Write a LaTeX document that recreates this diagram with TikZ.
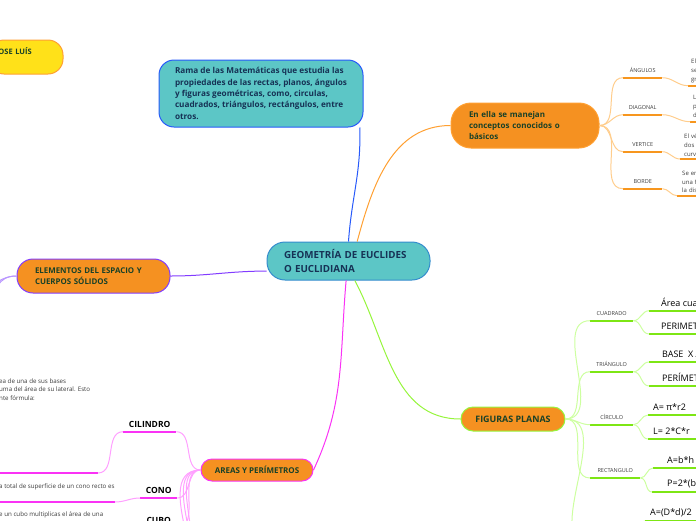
\documentclass[tikz,border=0pt]{standalone}
\usepackage{fontspec}
\setmainfont{Open Sans}
\usetikzlibrary{positioning}

\definecolor{tealfill}{RGB}{92,198,198}
\definecolor{geoline}{RGB}{52,140,205}
\definecolor{ramaline}{RGB}{40,90,250}
\definecolor{orfill}{RGB}{245,145,33}
\definecolor{orline}{RGB}{255,160,50}
\definecolor{orunder}{RGB}{247,150,30}
\definecolor{orlight}{RGB}{255,205,140}
\definecolor{purpline}{RGB}{130,60,255}
\definecolor{purplight}{RGB}{185,150,255}
\definecolor{magline}{RGB}{250,50,245}
\definecolor{maglight}{RGB}{255,160,255}
\definecolor{grline}{RGB}{150,245,60}
\definecolor{grunder}{RGB}{125,230,20}
\definecolor{grlight}{RGB}{205,255,160}
\definecolor{yelfill}{RGB}{255,225,25}
\definecolor{navytext}{RGB}{22,50,85}
\definecolor{greentext}{RGB}{25,65,40}
\definecolor{leaftext}{RGB}{60,60,60}

\begin{document}
\begin{tikzpicture}[x=1pt, y=-1pt,
    topic/.style={fill=orfill, line width=1pt, text=greentext,
        font=\fontsize{8}{11.3}\selectfont\bfseries},
    osub/.style={anchor=south west, inner xsep=0pt, inner ysep=5pt,
        text=leaftext, font=\fontsize{5.5}{6}\selectfont},
    oleaf/.style={anchor=south west, inner xsep=0pt, inner ysep=2.5pt, align=left,
        text=leaftext, font=\fontsize{6}{8.8}\selectfont},
    gleaf/.style={anchor=south west, inner xsep=0pt, inner ysep=4pt,
        font=\fontsize{9}{10}\selectfont},
    mlabel/.style={anchor=south west, inner xsep=0pt, inner ysep=4pt,
        font=\fontsize{8.5}{10}\selectfont\bfseries},
    mleaf/.style={anchor=base west, inner sep=0pt, align=left,
        text=leaftext, font=\fontsize{6.2}{8.3}\selectfont},
    ounder/.style={orunder, line width=2pt},
    gunder/.style={grunder, line width=2pt},
    munder/.style={magline, line width=2pt},
]
    \useasboundingbox (0,0) rectangle (696,520);
    \clip (0,0) rectangle (696,520);

    \node[draw=geoline, fill=tealfill, line width=1pt, rounded corners=18pt,
          minimum width=163pt, minimum height=38pt, text width=129pt, align=left,
          text=navytext, font=\fontsize{9.8}{13.3}\selectfont\bfseries]
          (geo) at (348.5, 261) {GEOMETRÍA DE EUCLIDES\\O EUCLIDIANA};

    \node[draw=ramaline, fill=tealfill, line width=1pt, rounded corners=15pt,
          minimum width=204pt, minimum height=67pt, align=left,
          text=navytext, font=\fontsize{8.2}{11.3}\selectfont\bfseries]
          (rama) at (261, 93.5) {Rama de las Matemáticas que estudia las\\
          propiedades de las rectas, planos, ángulos\\
          y figuras geométricas, como, circulas,\\
          cuadrados, triángulos, rectángulos, entre\\
          otros.};

    \node[draw=orline, fill=yelfill, line width=1pt, rounded corners=15pt,
          minimum width=74pt, minimum height=34pt, text width=60pt, align=left,
          text=greentext, font=\fontsize{7.5}{11}\selectfont\bfseries]
          (jose) at (26, 57) {JOSE LUÍS\\\mbox{}};

    \node[topic, draw=orline, rounded corners=20pt, minimum width=148pt,
          minimum height=45pt, text width=112pt, align=left]
          (ella) at (525, 125.5) {En ella se manejan\\conceptos conocidos o\\básicos};

    \node[topic, draw=purpline, rounded corners=16pt, minimum width=153pt,
          minimum height=34pt, text width=117pt, align=left,
          font=\fontsize{7.9}{11.3}\selectfont\bfseries]
          (elem) at (93.5, 276) {ELEMENTOS DEL ESPACIO Y\\CUERPOS SÓLIDOS};

    \node[topic, draw=magline, rounded corners=11pt, minimum width=112pt,
          minimum height=22pt] (areas) at (257, 470) {AREAS Y PERÍMETROS};

    \node[topic, draw=grline, rounded corners=12pt, minimum width=104pt,
          minimum height=24pt, font=\fontsize{8.9}{10}\selectfont\bfseries]
          (fig) at (513, 419) {FIGURAS PLANAS};

    \draw[ramaline, line width=1pt] (geo.north) to[out=86, in=-88] (rama.-19);
    \draw[orline,   line width=1pt] (geo.66)    to[out=75, in=180] (ella.west);
    \draw[purpline, line width=1pt] (geo.187)   to[out=180, in=0]  (elem.east);
    \draw[magline,  line width=1pt] (geo.263)   to[out=-95, in=65] (areas.east);
    \draw[grline,   line width=1pt] (geo.-72)   to[out=-62, in=180] (fig.west);

    \node[osub, minimum width=39pt] (ang)  at (623,  77.7) {ÁNGULOS};
    \node[osub, minimum width=39pt] (diag) at (623, 114.7) {DIAGONAL};
    \node[osub, minimum width=39pt] (vert) at (623, 151.7) {VERTICE};
    \node[osub, minimum width=39pt] (bord) at (623, 188.7) {BORDE};
    \foreach \n in {ang, diag, vert, bord} {
        \draw[ounder] (\n.south west) -- (\n.south east);
        \draw[orlight, line width=1pt] (ella.east) to[out=0, in=180] (\n.south west);
    }

    \node[oleaf, inner xsep=3pt, text width=80pt] (angl)  at (688,  85.7)
        {El ángulo es la abertura\\se forma entre dos rectas\\grados};
    \node[oleaf, inner xsep=3pt, text width=80pt] (diagl) at (690, 121.7)
        {La diagonal es un segmento\\para unir dos vértices\\de un polígono};
    \node[oleaf, inner xsep=4pt, text width=80pt] (vertl) at (680, 159)
        {El vértice es el punto\\dos lados de una figura\\curva};
    \node[oleaf, inner xsep=5pt, text width=80pt] (bordl) at (677, 195.7)
        {Se entiende por borde\\una figura que marca\\la distancia};
    \foreach \n/\m in {ang/angl, diag/diagl, vert/vertl, bord/bordl} {
        \draw[ounder] (\m.south west) -- ++(60, 0);
        \draw[orlight, line width=1pt] (\n.south east) to[out=0, in=180] (\m.south west);
    }

    \node[osub, minimum width=43pt] (cuad) at (590, 320.7) {CUADRADO};
    \node[osub, minimum width=43pt] (tri)  at (590, 371.7) {TRIÁNGULO};
    \node[osub, minimum width=43pt] (circ) at (590, 424.7) {CÍRCULO};
    \node[osub, minimum width=50pt] (rect) at (590, 478)   {RECTANGULO};
    \coordinate (romb) at (590, 545);
    \foreach \n in {cuad, tri, circ, rect} {
        \draw[gunder] (\n.south west) -- (\n.south east);
        \draw[grlight, line width=1pt] (fig.east) to[out=0, in=180] (\n.south west);
    }
    \draw[grlight, line width=1pt] (fig.east) to[out=0, in=180] (romb);

    \node[gleaf, inner xsep=12pt] (cuad1) at (649, 310.7) {Área cuadrado = L x L};
    \node[gleaf, inner xsep=12pt] (cuad2) at (649, 334)   {PERIMETRO = 4 x L};
    \node[gleaf, inner xsep=13pt] (tri1)  at (649, 362)   {BASE\ \ X ALTURA / 2};
    \node[gleaf, inner xsep=13pt] (tri2)  at (649, 386)   {PERÍMETRO = L + L + L};
    \node[gleaf, inner xsep=5pt]  (circ1) at (648, 415)   {A= π*r2};
    \node[gleaf, inner xsep=5pt]  (circ2) at (648, 439)   {L= 2*C*r};
    \node[gleaf, inner xsep=14pt] (rect1) at (653, 468)   {A=b*h};
    \node[gleaf, inner xsep=15pt] (rect2) at (652, 492)   {P=2*(b+h)};
    \node[gleaf, inner xsep=5pt]  (romb1) at (645, 521)   {A=(D*d)/2};
    \foreach \n/\m in {cuad/cuad1, cuad/cuad2, tri/tri1, tri/tri2,
                       circ/circ1, circ/circ2, rect/rect1, rect/rect2} {
        \draw[gunder] (\m.south west) -- ++(60, 0);
        \draw[grlight, line width=1pt] (\n.south east) to[out=0, in=180] (\m.south west);
    }
    \draw[gunder] (romb1.south west) -- ++(60, 0);
    \draw[grlight, line width=1pt] (romb) ++(43, 0) to[out=0, in=180] (romb1.south west);

    \node[mlabel, minimum width=53pt] (cil)  at (123, 431.7) {CILINDRO};
    \node[mlabel, minimum width=37pt] (cono) at (140, 498)   {CONO};
    \node[mlabel, minimum width=37pt] (cubo) at (140, 528)   {CUBO};
    \coordinate (pris) at (177, 560);
    \coordinate (pira) at (177, 590);
    \coordinate (esfe) at (177, 620);
    \foreach \n in {cil, cono, cubo} {
        \draw[munder] (\n.south west) -- (\n.south east);
        \draw[maglight, line width=1pt] (areas.west) to[out=180, in=0] (\n.south east);
    }
    \foreach \n in {pris, pira, esfe}
        \draw[maglight, line width=1pt] (areas.west) to[out=180, in=0] (\n);

    \coordinate (cill) at (98, 473);
    \coordinate (conl) at (115, 502);
    \draw[munder] (cill) -- ++(-120, 0);
    \draw[munder] (conl) -- ++(-140, 0);
    \draw[maglight, line width=1pt] (cil.south west)  to[out=180, in=0] (cill);
    \draw[maglight, line width=1pt] (cono.south west) to[out=180, in=0] (conl);

    \node[mleaf] (cilt) at (-1, 400)
        {\llap{El área de un cilindro es dos veces el ár}ea de una de sus bases\\
         \llap{más la s}uma del área de su lateral. Esto\\
         \llap{se representa con la siguie}nte fórmula:};
    \node[mleaf] (conot) at (-1, 488)
        {\llap{El áre}a total de superficie de un cono recto es};
    \node[mleaf] (cubot) at (-1, 516)
        {\llap{Para hallar el área d}e un cubo multiplicas el área de una};

    \draw[purplight, line width=1pt] (elem.west) to[out=180, in=20] (-30, 300);
    \draw[purplight, line width=1pt] (elem.west) to[out=180, in=80] (-6, 370);
\end{tikzpicture}
\end{document}
